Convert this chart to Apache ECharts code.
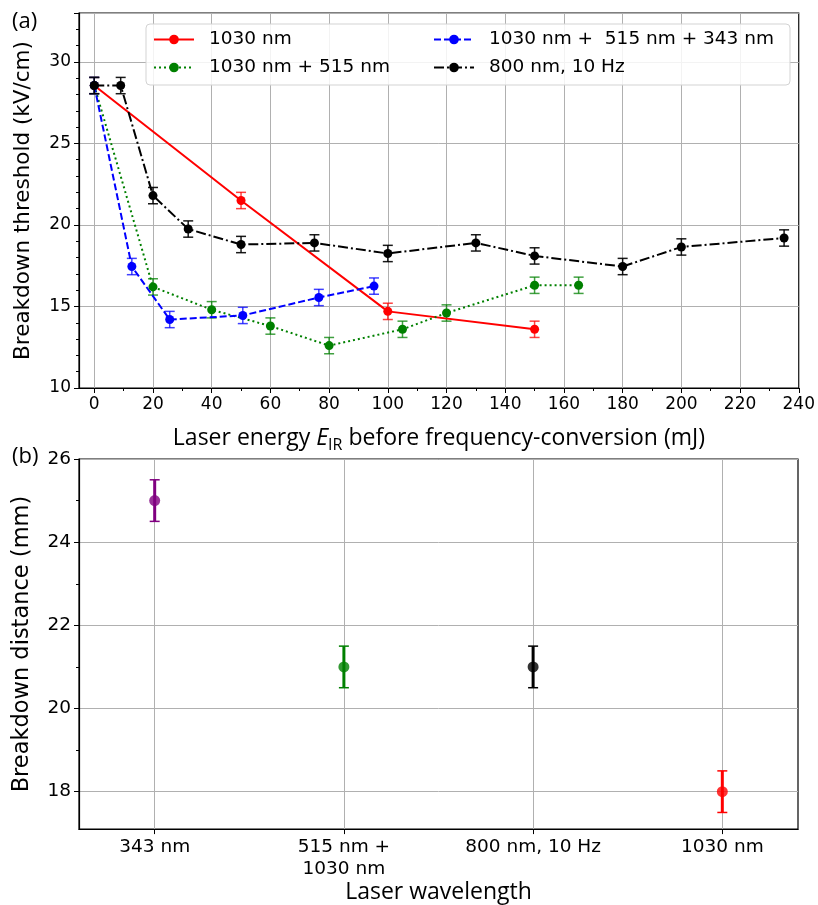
<!DOCTYPE html>
<html>
<head>
<meta charset="utf-8">
<script src="https://cdn.jsdelivr.net/npm/echarts@6/dist/echarts.min.js"></script>
<style>html,body{margin:0;padding:0;background:#fff}#c{width:818px;height:905px}</style>
</head>
<body>
<div id="c"></div>
<script>
// ---- Data: panel (a) ----
const energyTicks = [0, 20, 40, 60, 80, 100, 120, 140, 160, 180, 200, 220, 240];
const energyMinorTicks = [10, 30, 50, 70, 90, 110, 130, 150, 170, 190, 210, 230];
const thresholdTicks = [10, 15, 20, 25, 30];

const name1030 = '1030 nm';
const x1030 = [0, 50, 100, 150];
const y1030 = [28.55, 21.5, 14.7, 13.6];
const e1030 = [0.5, 0.5, 0.5, 0.5];

const name1030_515 = '1030 nm + 515 nm';
const x1030_515 = [0, 20, 40, 60, 80, 105, 120, 150, 165];
const y1030_515 = [28.55, 16.2, 14.8, 13.8, 12.6, 13.6, 14.6, 16.3, 16.3];
const e1030_515 = [0.5, 0.5, 0.5, 0.5, 0.5, 0.5, 0.5, 0.5, 0.5];

const name1030_515_343 = '1030 nm +  515 nm + 343 nm';
const x1030_515_343 = [0, 12.8, 25.7, 50.6, 76.5, 95.3];
const y1030_515_343 = [28.55, 17.45, 14.2, 14.45, 15.55, 16.25];
const e1030_515_343 = [0.5, 0.5, 0.5, 0.5, 0.5, 0.5];

const name800 = '800 nm, 10 Hz';
const x800 = [0, 9, 20, 32, 50, 75, 100, 130, 150, 180, 200, 235];
const y800 = [28.55, 28.55, 21.8, 19.75, 18.8, 18.9, 18.25, 18.9, 18.1, 17.45, 18.65, 19.2];
const e800 = [0.5, 0.5, 0.5, 0.5, 0.5, 0.5, 0.5, 0.5, 0.5, 0.5, 0.5, 0.5];

// ---- Data: panel (b) ----
const wavelengthCategories = ['343 nm', '515 nm +\n1030 nm', '800 nm, 10 Hz', '1030 nm'];
const distanceValues = [25, 21, 21, 18];
const distanceErrors = [0.5, 0.5, 0.5, 0.5];
const distanceTicks = [18, 20, 22, 24, 26];
const distanceMinorTicks = [19, 21, 23, 25];

// ---- Styles ----
const tickFont = 'DejaVu Sans';
const titleFont = 'Open Sans';
const wlColors = ['#800080', '#008000', '#000000', '#ff0000'];

function lineSeries(name, xs, ys, color, dash) {
  return {
    type: 'line', name: name, xAxisIndex: 0, yAxisIndex: 0,
    data: xs.map((x, i) => [x, ys[i]]),
    symbol: 'circle', symbolSize: 9, showAllSymbol: true,
    itemStyle: { color: color },
    lineStyle: { color: color, width: 2, type: dash },
    z: 3, animation: false
  };
}
function errSeries(id, xs, ys, es, color, xi, yi, lw, opacity, z) {
  return {
    type: 'custom', name: id, xAxisIndex: xi, yAxisIndex: yi,
    data: xs.map((x, i) => [x, ys[i] - es[i], ys[i] + es[i], i]),
    encode: { x: 0, y: [1, 2] },
    renderItem: function (params, api) {
      const x = api.value(0);
      const p1 = api.coord([x, api.value(2)]);
      const p2 = api.coord([x, api.value(1)]);
      const c = Array.isArray(color) ? color[api.value(3)] : color;
      const st = { stroke: c, lineWidth: lw, opacity: opacity };
      const cs = { stroke: c, lineWidth: 1.5, opacity: opacity };
      return {
        type: 'group', children: [
          { type: 'line', shape: { x1: p1[0], y1: p1[1], x2: p2[0], y2: p2[1] }, style: st },
          { type: 'line', shape: { x1: p1[0] - 5, y1: p1[1], x2: p1[0] + 5, y2: p1[1] }, style: cs },
          { type: 'line', shape: { x1: p2[0] - 5, y1: p2[1], x2: p2[0] + 5, y2: p2[1] }, style: cs }
        ]
      };
    },
    z: z, animation: false, silent: true
  };
}

const gridLine = { show: true, lineStyle: { color: '#b0b0b0', width: 1 } };
const axisLineBlack = { show: true, onZero: false, lineStyle: { color: '#000', width: 1.2 } };
const legendText = { fontFamily: tickFont, fontSize: 18.5, color: '#000', padding: [0, 0, 0, 10] };

const chart = echarts.init(document.getElementById('c'), null, { renderer: 'canvas' });
const option = {
  backgroundColor: '#fff',
  animation: false,
  grid: [
    { left: 79, right: 19, top: 13, height: 375, show: true, borderColor: '#000', borderWidth: 1.2, backgroundColor: 'transparent' },
    { left: 79, right: 20, top: 459, height: 375, show: true, borderColor: '#000', borderWidth: 1.2, backgroundColor: 'transparent' }
  ],
  xAxis: [
    {
      type: 'value', gridIndex: 0, min: -5.2, max: 240, position: 'bottom',
      axisLine: axisLineBlack,
      axisTick: { show: true, length: 5, customValues: energyTicks, lineStyle: { color: '#000' } },
      axisLabel: { customValues: energyTicks, color: '#000', fontFamily: tickFont, fontSize: 17, margin: 8 },
      splitLine: gridLine,
      name: '{a|Laser energy }{i|E}{s|IR}{a| before frequency-conversion (mJ)}',
      nameLocation: 'middle', nameGap: 36,
      nameTextStyle: {
        rich: {
          a: { fontFamily: titleFont, fontSize: 23, color: '#000' },
          i: { fontFamily: titleFont, fontSize: 23, fontStyle: 'italic', color: '#000' },
          s: { fontFamily: titleFont, fontSize: 16, color: '#000', padding: [13, 0, 0, 0] }
        }
      }
    },
    {
      type: 'value', gridIndex: 0, min: -5.2, max: 240, position: 'bottom',
      axisLine: { show: false, onZero: false },
      axisTick: { show: true, length: 3, customValues: energyMinorTicks, lineStyle: { color: '#000' } },
      axisLabel: { show: false }, splitLine: { show: false }
    },
    {
      type: 'value', gridIndex: 1, min: -0.4, max: 3.4, position: 'bottom',
      axisLine: axisLineBlack,
      axisTick: { show: true, length: 5, customValues: [0, 1, 2, 3], lineStyle: { color: '#000' } },
      axisLabel: {
        customValues: [0, 1, 2, 3], color: '#000', fontFamily: tickFont, fontSize: 18.5, margin: 7, lineHeight: 22,
        formatter: v => wavelengthCategories[Math.round(v)]
      },
      splitLine: gridLine,
      name: 'Laser wavelength', nameLocation: 'middle', nameGap: 45,
      nameTextStyle: { fontFamily: titleFont, fontSize: 23, color: '#000' }
    }
  ],
  yAxis: [
    {
      type: 'value', gridIndex: 0, min: 10, max: 33, interval: 5, position: 'left',
      axisLine: axisLineBlack,
      axisTick: { show: true, length: 5, lineStyle: { color: '#000' } },
      minorTick: { show: true, splitNumber: 5, length: 3, lineStyle: { color: '#000' } },
      axisLabel: { color: '#000', fontFamily: tickFont, fontSize: 17, margin: 8, showMaxLabel: false },
      splitLine: gridLine,
      name: 'Breakdown threshold (kV/cm)', nameLocation: 'middle', nameGap: 45,
      nameTextStyle: { fontFamily: tickFont, fontSize: 21.5, color: '#000' }
    },
    {
      type: 'value', gridIndex: 1, min: 17.1, max: 26, position: 'left',
      axisLine: axisLineBlack,
      axisTick: { show: true, length: 5, customValues: distanceTicks, lineStyle: { color: '#000' } },
      axisLabel: { customValues: distanceTicks, color: '#000', fontFamily: tickFont, fontSize: 18.5, margin: 8 },
      splitLine: gridLine,
      name: 'Breakdown distance (mm)', nameLocation: 'middle', nameGap: 45,
      nameTextStyle: { fontFamily: tickFont, fontSize: 22.5, color: '#000' }
    },
    {
      type: 'value', gridIndex: 1, min: 17.1, max: 26, position: 'left',
      axisLine: { show: false, onZero: false },
      axisTick: { show: true, length: 3, customValues: distanceMinorTicks, lineStyle: { color: '#000' } },
      axisLabel: { show: false }, splitLine: { show: false }
    }
  ],
  legend: [
    {
      left: 148, top: 25, orient: 'vertical', itemGap: 9, itemWidth: 40, itemHeight: 12,
      textStyle: legendText, data: [name1030, name1030_515], z: 10
    },
    {
      left: 428, top: 25, orient: 'vertical', itemGap: 9, itemWidth: 40, itemHeight: 12,
      textStyle: legendText, data: [name1030_515_343, name800], z: 10
    }
  ],
  graphic: [
    { type: 'rect', shape: { x: 146, y: 24, width: 644, height: 61, r: 4 }, style: { fill: 'rgba(255,255,255,0.85)', stroke: '#d3d3d3', lineWidth: 1 }, z: 8 },
    { type: 'text', left: 12, top: 11, style: { text: '(a)', fontFamily: titleFont, fontSize: 22, fill: '#000' } },
    { type: 'text', left: 12, top: 446, style: { text: '(b)', fontFamily: titleFont, fontSize: 22, fill: '#000' } }
  ],
  series: [
    errSeries('e1', x1030, y1030, e1030, '#ff0000', 0, 0, 1.5, 0.75, 2),
    lineSeries(name1030, x1030, y1030, '#ff0000', 'solid'),
    errSeries('e2', x1030_515, y1030_515, e1030_515, '#008000', 0, 0, 1.5, 0.75, 2),
    lineSeries(name1030_515, x1030_515, y1030_515, '#008000', [2, 3]),
    errSeries('e3', x1030_515_343, y1030_515_343, e1030_515_343, '#0000ff', 0, 0, 1.5, 0.75, 2),
    lineSeries(name1030_515_343, x1030_515_343, y1030_515_343, '#0000ff', [7, 3]),
    errSeries('e4', x800, y800, e800, '#000000', 0, 0, 1.5, 0.9, 4),
    Object.assign(lineSeries(name800, x800, y800, '#000000', [10, 3, 2, 3]), { z: 5 }),
    errSeries('eb', [0, 1, 2, 3], distanceValues, distanceErrors, wlColors, 2, 1, 3, 1, 2),
    {
      type: 'scatter', name: 'distance', xAxisIndex: 2, yAxisIndex: 1,
      data: distanceValues.map((v, i) => ({ value: [i, v], itemStyle: { color: wlColors[i] } })),
      symbol: 'circle', symbolSize: 11, z: 3, animation: false
    }
  ]
};
chart.setOption(option);
</script>
</body>
</html>
